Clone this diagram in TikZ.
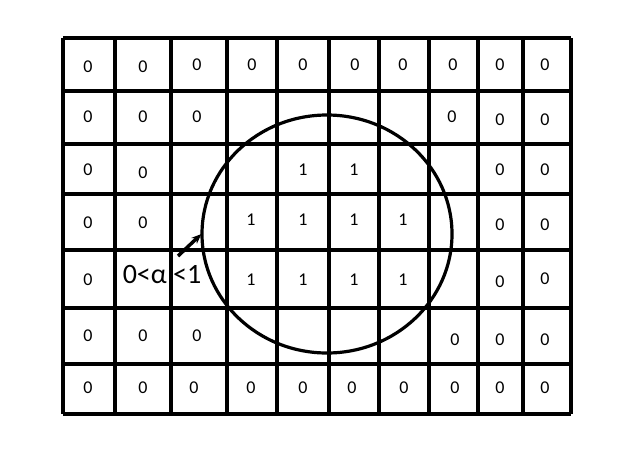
\documentclass[tikz,border=0pt]{standalone}
\usepackage{fontspec}
\setmainfont{Carlito}
\usetikzlibrary{arrows.meta,shapes.geometric}
\begin{document}
\begin{tikzpicture}[x=1pt,y=-1pt,
  gridline/.style={line width=3.5pt,line cap=square},
  cellnum/.style={font=\fontsize{18}{18}\selectfont,inner sep=0pt},
  bound/.style={line width=3.2pt},
  pointer/.style={line width=3.5pt,-{Stealth[length=10pt,width=8pt]}},
  lbl/.style={font=\fontsize{28}{28}\selectfont,inner sep=0pt}]
\useasboundingbox (0,0) rectangle (644,458);
\foreach \x in {63,115,171,227,277,329,379,429,478,523,571}
  \draw[gridline] (\x,38) -- (\x,414);
\foreach \y in {38,91,144,194,250,308,364,414}
  \draw[gridline] (63,\y) -- (571,\y);
\foreach \x/\y/\t [count=\i] in {
  88/67/0,143/67/0,197/65/0,252/65/0,303/65/0,355/65/0,403/65/0,453/65/0,500/65/0,545/65/0,
  88/117/0,143/117/0,197/117/0,452/117/0,500/120/0,545/120/0,
  88/170/0,143/173/0,303/170/1,354/170/1,500/170/0,545/170/0,
  88/223/0,143/223/0,251/220/1,303/220/1,354/220/1,403/220/1,500/225/0,545/225/0,
  88/280/0,251/280/1,303/280/1,354/280/1,403/280/1,500/282/0,545/279/0,
  88/336/0,143/336/0,197/336/0,455/340/0,500/340/0,545/340/0,
  88/388/0,143/388/0,194/388/0,251/388/0,303/388/0,352/388/0,404/388/0,455/388/0,500/388/0,545/388/0}
  \node[cellnum] (n\i) at (\x,\y) {\t};
\node[draw,bound,ellipse,minimum width=250pt,minimum height=238pt,inner sep=0pt] (circ) at (327,234) {};
\node[lbl] (alpha) at (162,275) {0<α <1};
\coordinate (tail) at (178,256);
\coordinate (head) at (circ.west);
\draw[pointer] (tail) -- ([xshift=1pt]head);
\end{tikzpicture}
\end{document}
